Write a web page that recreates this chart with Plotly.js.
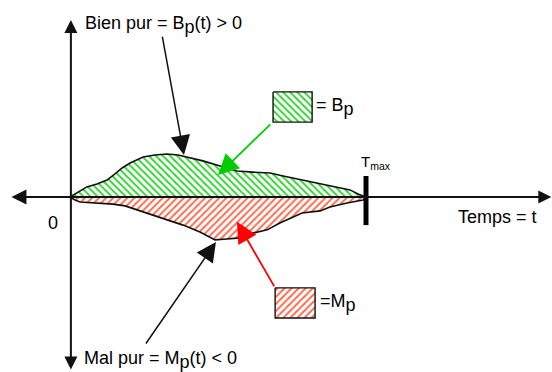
<!DOCTYPE html>
<html>
<head>
<meta charset="utf-8">
<script src="https://cdn.plot.ly/plotly-3.0.1.min.js"></script>
<style>html,body{margin:0;padding:0;background:#fff;}#chart{width:552px;height:372px;}</style>
</head>
<body>
<div id="chart"></div>
<script>
// Time (t) in units where T_max = 100; values Bp(t) > 0 and Mp(t) < 0
var tmax = 100;
var bienT = [0, 2.7, 5.7, 9.1, 12.5, 15.2, 17.6, 20.3, 24.7, 28.7, 32.8, 36.5, 39.5, 44.9, 50.7, 56.4, 61.8, 67.6, 72.0, 75.3, 78.7, 84.5, 90.2, 94.6, 97.3, 100];
var bienV = [0, 1.7, 3.4, 4.4, 5.7, 7.8, 9.8, 11.5, 13.5, 14.2, 14.5, 14.2, 13.5, 12.2, 10.5, 8.8, 8.4, 8.1, 7.1, 6.4, 5.7, 4.4, 3.4, 2.4, 1.0, 0];
var malT = [0, 1.7, 3.4, 9.1, 14.5, 18.6, 23.6, 30.4, 38.2, 43.9, 49.0, 53.0, 56.4, 61.8, 66.6, 70.9, 75.0, 78.4, 84.5, 87.8, 93.6, 99.0, 100];
var malV = [0, -1.0, -1.7, -2.0, -2.4, -3.0, -4.7, -6.8, -9.5, -11.8, -14.5, -14.2, -13.9, -12.2, -11.1, -8.8, -6.8, -5.4, -4.7, -3.4, -2.0, -1.0, 0];

var labelBien = 'Bien pur = B<sub><span style="font-size:18px">p</span></sub>(t) > 0';
var labelMal = 'Mal pur = M<sub><span style="font-size:18px">p</span></sub>(t) < 0';
var labelLegB = '= B<sub><span style="font-size:18px">p</span></sub>';
var labelLegM = '=M<sub><span style="font-size:18px">p</span></sub>';
var labelTime = 'Temps = t';
var labelTmax = 'T<sub>max</sub>';
var labelZero = '0';

var green = '#33d433';
var red = '#ff6a4d';
var ink = '#111';
var FONT = 'Liberation Sans, Arial, sans-serif';

var traces = [
  {x: bienT, y: bienV, type: 'scatter', mode: 'lines', fill: 'tozeroy',
   fillcolor: 'white', fillpattern: {shape: '\\', fgcolor: green, bgcolor: 'white', size: 5, solidity: 0.4},
   line: {color: ink, width: 1.6}, hoverinfo: 'skip'},
  {x: malT, y: malV, type: 'scatter', mode: 'lines', fill: 'tozeroy',
   fillcolor: 'white', fillpattern: {shape: '/', fgcolor: red, bgcolor: 'white', size: 5, solidity: 0.4},
   line: {color: ink, width: 1.6}, hoverinfo: 'skip'},
  // legend swatches
  {x: [68.6, 81.8, 81.8, 68.6, 68.6], y: [35.5, 35.5, 25.3, 25.3, 35.5], type: 'scatter', mode: 'lines', fill: 'toself',
   fillcolor: 'white', fillpattern: {shape: '\\', fgcolor: green, bgcolor: 'white', size: 5, solidity: 0.4},
   line: {color: ink, width: 1.4}, hoverinfo: 'skip'},
  {x: [69.3, 82.8, 82.8, 69.3, 69.3], y: [-30.7, -30.7, -40.9, -40.9, -30.7], type: 'scatter', mode: 'lines', fill: 'toself',
   fillcolor: 'white', fillpattern: {shape: '/', fgcolor: red, bgcolor: 'white', size: 5, solidity: 0.4},
   line: {color: ink, width: 1.4}, hoverinfo: 'skip'}
];

function arrow(x, y, ax, ay, color, w, size) {
  return {x: x, y: y, ax: ax, ay: ay, xref: 'x', yref: 'y', axref: 'x', ayref: 'y',
    text: '', showarrow: true, arrowhead: 2, arrowsize: size, arrowwidth: w, arrowcolor: color};
}
function label(x, y, text, size, xanchor) {
  return {x: x, y: y, xref: 'x', yref: 'y', text: text, showarrow: false,
    xanchor: xanchor || 'left', yanchor: 'middle', font: {family: FONT, size: size, color: '#000'}};
}

var hAxis = arrow(162.6, 0, -20.3, 0, ink, 2, 1.3);
hAxis.arrowside = 'end+start'; hAxis.startarrowhead = 2; hAxis.startarrowsize = 1.5;
var vAxis = arrow(0.3, 59.8, 0.3, -58.8, ink, 2, 1.3);
vAxis.arrowside = 'end+start'; vAxis.startarrowhead = 2; vAxis.startarrowsize = 1.3;

var annotations = [
  hAxis, vAxis,
  arrow(38.5, 14.2, 31.1, 54.7, ink, 1.5, 2.6),
  arrow(49.3, -15.2, 25.3, -50, ink, 1.5, 2.6),
  arrow(50, 7.4, 68.2, 25.0, '#00cc00', 1.8, 2.3),
  arrow(56.4, -8.4, 69.3, -30.7, '#ff0000', 1.8, 2.3),
  label(4.3, 58.0, labelBien, 18),
  label(3.9, -55.0, labelMal, 18),
  label(82.6, 30.4, labelLegB, 18),
  label(83.8, -35.8, labelLegM, 18),
  label(130.4, -6.8, labelTime, 18),
  label(97.6, 11.6, labelTmax, 15),
  label(-5.7, -8.8, labelZero, 18, 'center')
];

var layout = {
  width: 552, height: 372,
  margin: {l: 0, r: 0, t: 0, b: 0, pad: 0},
  paper_bgcolor: 'white', plot_bgcolor: 'white',
  showlegend: false,
  xaxis: {range: [-23.65, 162.84], visible: false, fixedrange: true},
  yaxis: {range: [-59.12, 66.55], visible: false, fixedrange: true},
  shapes: [
    {type: 'line', xref: 'x', yref: 'y', x0: tmax, x1: tmax, y0: -9.5, y1: 7.1, line: {color: '#000', width: 5}, layer: 'above'}
  ],
  annotations: annotations,
  font: {family: FONT}
};

Plotly.newPlot('chart', traces, layout, {staticPlot: true, displayModeBar: false});
</script>
</body>
</html>
